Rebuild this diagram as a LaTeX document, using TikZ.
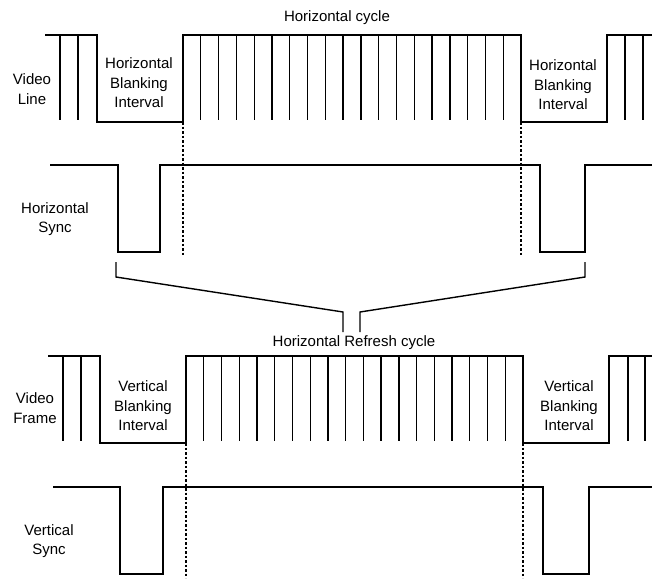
\documentclass[tikz,border=0pt]{standalone}
\usepackage{fontspec}
\setmainfont{Liberation Sans}
\usetikzlibrary{positioning}

\begin{document}
\begin{tikzpicture}[x=1pt, y=-1pt]
	\tikzset{wave/.style={line width=2.8pt, line join=miter},
		tick/.style={line width=1.3pt},
		sync/.style={line width=2.4pt, line join=miter},
		guide/.style={line width=1.3pt, dash pattern=on 2.5pt off 2pt},
		brace/.style={line width=1.4pt},
		lbl/.style={align=center, inner sep=0pt, font=\fontsize{15}{19.5}\selectfont}}
	\useasboundingbox (0,0) rectangle (652,578);

	% video line
	\draw[wave] (45,35) -- (97,35) -- (97,122) -- (183,122) -- (183,35) -- (521,35)
		-- (521,122) -- (607,122) -- (607,35) -- (652,35);
	\foreach \x in {60,78,625,643}
		\draw[tick] (\x,35) -- (\x,120);
	\foreach \i in {1,...,18}
		\draw[tick] ({183+\i*17.79},35) -- ++(0,85);

	\node[lbl] (vline) at (32,89) {Video\\Line};
	\node[lbl] (hbi1) at (139,83) {Horizontal\\Blanking\\Interval};
	\node[lbl] (hbi2) at (563,85) {Horizontal\\Blanking\\Interval};
	\node[lbl] (hcyc) at (337,18) {Horizontal cycle};

	% horizontal sync
	\draw[sync] (50,165) -- (118,165) -- (118,252) -- (160,252) -- (160,165) -- (540,165)
		-- (540,252) -- (585,252) -- (585,165) -- (652,165);
	\node[lbl] (hsync) at (55,219) {Horizontal\\Sync};
	\draw[guide] (183,122) -- (183,255);
	\draw[guide] (521,122) -- (521,255);

	% bracket
	\coordinate (bl) at (343,332);
	\coordinate (br) at (360,332);
	\draw[brace] (116,262) -- (116,277) -- (343,312) -- (bl);
	\draw[brace] (585,262) -- (585,277) -- (360,312) -- (br);

	% video frame
	\draw[wave] (48,356) -- (100,356) -- (100,443) -- (186,443) -- (186,356) -- (523,356)
		-- (523,443) -- (609,443) -- (609,356) -- (652,356);
	\foreach \x in {63,81,628,645}
		\draw[tick] (\x,356) -- (\x,441);
	\foreach \i in {1,...,18}
		\draw[tick] ({186+\i*17.74},356) -- ++(0,85);

	\node[lbl] (vframe) at (35,408) {Video\\Frame};
	\node[lbl] (vbi1) at (143,406) {Vertical\\Blanking\\Interval};
	\node[lbl] (vbi2) at (569,406) {Vertical\\Blanking\\Interval};
	\node[lbl] (hrc) at (354,343) {Horizontal Refresh cycle};

	% vertical sync
	\draw[sync] (53,487) -- (120,487) -- (120,574) -- (163,574) -- (163,487) -- (543,487)
		-- (543,574) -- (589,574) -- (589,487) -- (652,487);
	\node[lbl] (vsync) at (49,541) {Vertical\\Sync};
	\draw[guide] (186,443) -- (186,578);
	\draw[guide] (523,443) -- (523,578);
\end{tikzpicture}
\end{document}
